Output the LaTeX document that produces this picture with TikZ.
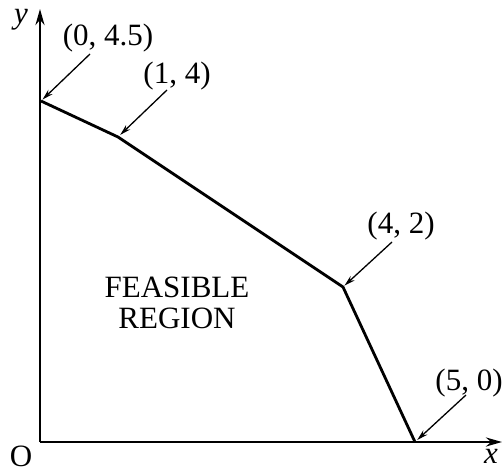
\documentclass[tikz,border=0pt]{standalone}
\usepackage{fontspec}
\setmainfont{Liberation Serif}
\usetikzlibrary{arrows.meta}
\begin{document}
\begin{tikzpicture}[x=1pt,y=1pt,
  axis/.style={line width=2.8pt,-{Stealth[length=16pt,width=9pt]}},
  edge/.style={line width=2.8pt,line join=miter},
  pointer/.style={line width=1.3pt,-{Stealth[length=11pt,width=6pt]}},
  lbl/.style={font=\fontsize{31}{34}\selectfont,inner sep=0pt},
  big/.style={font=\fontsize{31}{34}\selectfont,inner sep=0pt,align=center}]
\useasboundingbox (0,0) rectangle (503,475);
\coordinate (O) at (40,33);
\coordinate (xe) at (502,33);
\coordinate (ye) at (40,466);
\coordinate (P1) at (41,374);
\coordinate (P2) at (118,338);
\coordinate (P3) at (343,188);
\coordinate (P4) at (415,33);
\draw[axis] (O) -- (xe);
\draw[axis] (O) -- (ye);
\draw[edge] (P1) -- (P2) -- (P3) -- (P4);
\node[lbl] (ly) at (21,455) {\itshape y};
\node[lbl] (lO) at (21,19) {O};
\node[lbl] (lx) at (491,19) {\itshape x};
\node[lbl] (L1) at (108,437) {(0, 4.5)};
\node[lbl] (L2) at (177,399) {(1, 4)};
\node[lbl] (L3) at (401,249) {(4, 2)};
\node[lbl] (L4) at (469,92) {(5, 0)};
\coordinate (s1) at (90,421);
\coordinate (s2) at (167,385);
\coordinate (s3) at (392,233);
\coordinate (s4) at (466,80);
\draw[pointer,shorten >=2pt] (s1) -- (P1);
\draw[pointer,shorten >=3pt] (s2) -- (P2);
\draw[pointer,shorten >=2pt] (s3) -- (P3);
\draw[pointer,shorten >=3pt] (s4) -- (P4);
\node[big] (fr) at (177,172) {FEASIBLE\\[-3pt]REGION};
\end{tikzpicture}
\end{document}
